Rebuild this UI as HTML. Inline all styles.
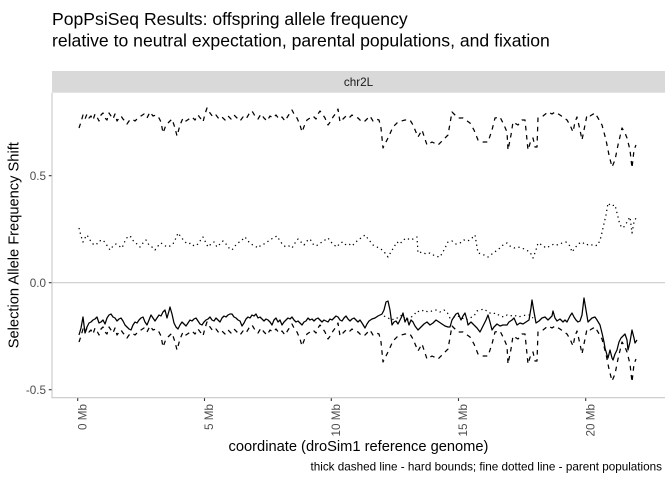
<!DOCTYPE html>
<html>
<head>
<meta charset="utf-8">
<style>
html,body{margin:0;padding:0;background:#fff;}
svg{display:block;}
text{font-family:"Liberation Sans",Arial,Helvetica,sans-serif;}
</style>
</head>
<body>
<svg width="672" height="480" viewBox="0 0 672 480" xmlns="http://www.w3.org/2000/svg">
<rect x="0" y="0" width="672" height="480" fill="#ffffff"/>

<!-- Title -->
<text x="52" y="25" font-size="17.6" fill="#000">PopPsiSeq Results: offspring allele frequency</text>
<text x="52" y="46.5" font-size="17.6" fill="#000">relative to neutral expectation, parental populations, and fixation</text>

<!-- Strip -->
<rect x="52" y="71" width="613" height="21.7" fill="#D9D9D9"/>
<text x="358.5" y="85.8" font-size="11.7" fill="#1A1A1A" text-anchor="middle">chr2L</text>

<!-- Panel axes -->
<line x1="52" y1="282.7" x2="665" y2="282.7" stroke="#CCCCCC" stroke-width="1.1"/>
<line x1="52" y1="92.7" x2="52" y2="397.7" stroke="#C8C8C8" stroke-width="1.1"/>
<line x1="51.5" y1="397.7" x2="665" y2="397.7" stroke="#C8C8C8" stroke-width="1.1"/>

<!-- Y ticks -->
<g stroke="#333333" stroke-width="1.1">
<line x1="48.8" y1="175.7" x2="51.5" y2="175.7"/>
<line x1="48.8" y1="282.7" x2="51.5" y2="282.7"/>
<line x1="48.8" y1="389.7" x2="51.5" y2="389.7"/>
</g>
<g font-size="11.7" fill="#4D4D4D" text-anchor="end">
<text x="46" y="179.9">0.5</text>
<text x="46" y="286.9">0.0</text>
<text x="46" y="393.9">-0.5</text>
</g>

<!-- X ticks -->
<g stroke="#333333" stroke-width="1.1">
<line x1="77.7" y1="398.2" x2="77.7" y2="401"/>
<line x1="204.5" y1="398.2" x2="204.5" y2="401"/>
<line x1="331.3" y1="398.2" x2="331.3" y2="401"/>
<line x1="458.5" y1="398.2" x2="458.5" y2="401"/>
<line x1="585.7" y1="398.2" x2="585.7" y2="401"/>
</g>
<g font-size="11.7" fill="#4D4D4D" text-anchor="end">
<text transform="translate(86.4,404) rotate(-90)">0 Mb</text>
<text transform="translate(213.2,404) rotate(-90)">5 Mb</text>
<text transform="translate(340,404) rotate(-90)">10 Mb</text>
<text transform="translate(467.2,404) rotate(-90)">15 Mb</text>
<text transform="translate(594.4,404) rotate(-90)">20 Mb</text>
</g>

<!-- Axis titles -->
<text x="358.5" y="451" font-size="14.67" fill="#000" text-anchor="middle">coordinate (droSim1 reference genome)</text>
<text transform="translate(18.5,245.2) rotate(-90)" font-size="14.67" fill="#000" text-anchor="middle">Selection Allele Frequency Shift</text>

<!-- Caption -->
<text x="662" y="470.5" font-size="11.7" fill="#000" text-anchor="end">thick dashed line - hard bounds; fine dotted line - parent populations</text>

<!-- Series -->
<g fill="none" stroke="#000" stroke-width="1.25" stroke-linejoin="round">

<!-- upper dashed (hard bound) -->
<polyline id="U" stroke-dasharray="4.6 4.6" points="79,128 81,122 83,115 85,119 87,114 89,118 91,116 93,120 95,114 97,117 99,121 101,115 103,113 105,118 107,120 109,113 111,116 113,119 115,114 117,121 119,118 121,116 123,119 125,121 127,124 129,121 132,119 135,121 138,118 141,116 144,114 147,118 150,112 153,116 156,115 159,118 161,122 163,133 166,125 169,122 172,119 175,128 177,136 180,125 183,118 186,121 189,119 192,117 195,120 198,115 201,119 203,122 205,114 207,108 210,113 213,117 216,115 219,119 222,117 225,120 228,116 231,119 234,115 237,118 240,121 243,117 246,119 249,114 252,111 255,116 258,119 261,114 264,118 267,121 270,116 273,118 276,115 279,119 282,117 285,121 288,116 290,113 292,110 295,116 297,118 300,125 302,132 305,124 307,120 310,118 313,116 316,119 318,114 320,111 323,115 325,118 328,125 331,121 333,117 336,113 338,109 340,122 343,119 346,116 349,118 352,115 355,117 358,118 361,121 364,122 367,119 370,116 373,121 376,119 379,120 381,128 383,148 388,138 393,127 398,122 405,120 410,120 413,125 418,137 422,130 427,145 432,142 438,145 443,140 448,135 452,112 455,115 458,118 463,118 470,123 474,130 478,140 483,142 488,142 492,130 495,118 500,117 504,125 507,132 508,150 511,135 513,122 518,125 522,120 525,120 528,150 531,140 533,138 535,147 537,147 538,118 543,116 548,112 552,114 555,112 560,115 567,120 570,125 573,132 575,122 577,117 580,130 582,140 585,125 587,115 590,116 595,113 598,118 602,125 606,140 609,155 612,167 615,160 618,145 622,128 625,133 627,138 630,150 632,168 634,150 636,145"/>

<!-- lower dashed (hard bound) = upper - 1 -->
<use href="#U" transform="translate(0,214)"/>

<!-- upper dotted (parent) -->
<polyline stroke-dasharray="1.3 3.4" points="79,228 81,236 83,242 85,238 87,235 90,240 93,244 96,245 99,241 103,240 106,244 110,250 113,246 116,244 119,246 122,248 125,241 128,236 131,237 134,242 137,244 140,247 143,243 146,240 149,245 152,247 155,250 158,246 161,243 164,245 167,247 170,246 173,244 176,238 178,233 181,237 185,242 188,244 191,243 194,246 197,245 200,241 203,237 206,243 208,247 211,244 214,242 217,247 220,244 223,241 226,244 229,248 232,250 235,246 238,243 242,240 245,237 248,241 251,244 255,246 258,248 261,245 264,244 267,242 270,240 273,238 277,236 280,241 283,245 286,247 289,246 292,248 295,243 298,239 301,242 304,245 307,241 310,239 313,244 316,246 319,244 322,242 325,240 328,238 331,242 334,245 337,247 340,243 343,242 346,245 349,244 352,246 355,243 358,240 361,238 365,235 369,240 373,245 377,247 381,249 385,253 388,257 391,252 394,247 397,242 400,244 403,240 407,238 410,240 413,239 417,237 418,253 422,252 426,254 430,253 435,256 440,257 444,250 448,242 452,241 456,244 460,243 464,240 468,241 472,238 475,235 478,253 482,254 486,256 488,257 492,254 496,251 500,248 504,244 507,243 510,246 514,248 518,247 522,248 526,250 530,252 533,258 536,250 538,243 542,245 546,248 550,246 554,244 558,245 562,243 566,242 570,246 572,252 575,248 578,244 582,242 586,245 590,244 594,246 598,245 601,237 603,228 606,215 608,203 611,206 615,205 617,213 620,225 623,228 626,224 628,220 630,217 632,233 634,222 636,218"/>

<!-- lower dotted (parent) visible portion -->
<polyline stroke-dasharray="1.3 3.4" points="384,316 388,318 392,320 395,318 398,318 402,315 406,320 410,318 414,315 417,311 420,312 424,310 428,312 432,311 436,310 440,312 444,310 447,312 450,318 454,317 458,316 462,318 466,320 470,318 474,316 477,311 480,310 484,309 488,312 492,314 496,313 500,316 504,317 507,315 510,316 514,315 518,317 522,316 526,315 530,315 533,318"/>

<!-- solid (offspring) -->
<polyline points="79,335 81,328 83,317 85,333 87,327 89,323 91,322 93,320 95,319 97,317 99,323 101,322 103,320 105,324 107,318 109,315 111,314 113,317 115,318 117,321 119,319 121,318 123,321 125,325 127,327 129,329 131,330 133,325 135,322 137,323 139,320 141,318 143,317 145,322 147,325 149,320 151,315 153,318 155,321 157,318 159,315 161,316 163,312 165,310 167,318 169,311 170,307 172,314 174,323 176,327 178,329 180,325 182,322 184,324 186,326 188,323 190,320 192,321 194,319 196,318 198,321 200,324 202,325 204,322 206,320 208,319 210,317 212,320 214,321 216,318 218,320 220,322 222,318 224,316 226,317 228,315 230,314 232,314 234,317 236,318 238,320 240,321 242,326 244,323 246,319 248,317 250,318 252,315 254,316 256,314 258,318 260,317 262,319 264,321 266,319 268,320 270,322 272,325 274,320 276,318 278,322 280,320 282,325 284,322 286,320 288,318 290,319 292,317 294,320 296,322 298,321 300,323 302,325 304,322 306,321 308,318 310,320 312,319 314,321 316,319 318,318 320,320 322,322 324,320 326,321 328,322 330,319 332,320 334,318 336,316 338,317 340,320 342,321 344,318 346,316 348,319 350,321 352,319 354,318 356,320 358,322 360,320 362,323 365,328 367,324 369,321 372,319 375,318 378,316 380,315 382,314 384,310 386,302 388,301 390,310 392,325 394,322 396,321 398,324 400,320 402,316 403,313 405,322 407,318 409,325 411,320 413,322 415,326 418,330 421,327 424,324 427,322 430,325 433,323 436,320 439,322 442,324 445,326 448,327 450,327 452,320 454,317 456,314 458,313 461,320 463,316 465,313 467,320 468,325 471,322 474,325 477,328 480,332 483,326 486,320 488,315 490,322 492,330 494,327 497,324 500,326 503,325 507,325 509,322 512,320 514,318 517,325 520,323 523,324 526,322 529,320 531,308 532,300 534,312 536,323 539,321 542,318 545,317 548,320 550,318 552,316 553,311 555,318 557,321 560,319 563,322 565,320 567,322 570,316 572,313 574,317 576,320 578,322 580,321 582,315 584,298 586,310 588,322 590,320 592,318 595,317 597,320 600,325 602,333 604,342 605,348 607,355 608,358 610,350 612,358 613,360 615,354 617,350 619,342 621,338 622,337 625,334 627,340 628,350 630,342 632,330 634,338 635,343 637,340"/>
</g>
</svg>
</body>
</html>
